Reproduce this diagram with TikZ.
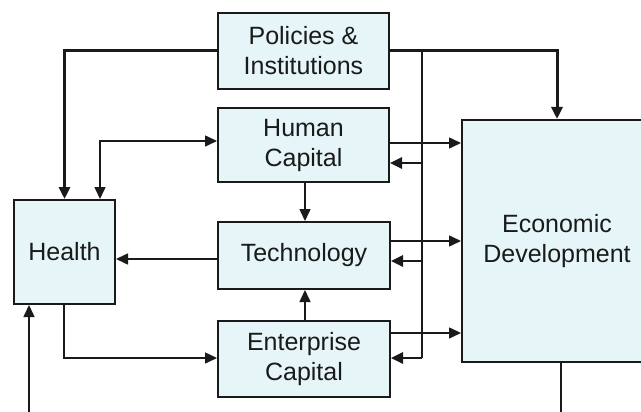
\documentclass[tikz,border=0pt]{standalone}
\usepackage{fontspec}
\setmainfont{Liberation Sans}
\usetikzlibrary{arrows.meta}
\definecolor{boxfill}{HTML}{E6F6F8}
\definecolor{ink}{HTML}{1A1A1A}
\begin{document}
\begin{tikzpicture}[x=1pt,y=-1pt,
  box/.style={draw=ink,line width=2pt,fill=boxfill,inner sep=0pt,align=center,
    font=\fontsize{25}{30}\selectfont,text=ink},
  conn/.style={draw=ink,line width=1.5pt,-{Triangle[length=12pt,width=11pt]}},
  thick conn/.style={conn,line width=3pt},
  plain/.style={draw=ink,line width=1.5pt}]
\useasboundingbox (0,0) rectangle (641,412);
\node[box,minimum width=190pt,minimum height=242pt] (eco) at (557,241) {Economic\\Development};
\node[box,minimum width=171pt,minimum height=76pt] (pol) at (303.5,51) {Policies \&\\Institutions};
\node[box,minimum width=171pt,minimum height=74pt] (hum) at (303.5,145) {Human\\Capital};
\node[box,minimum width=172pt,minimum height=67pt] (tec) at (304,255.5) {Technology};
\node[box,minimum width=172pt,minimum height=76pt] (ent) at (304,359) {Enterprise\\Capital};
\node[box,minimum width=101pt,minimum height=104pt] (hea) at (64.5,252) {Health};
% policies
\draw[thick conn] (pol.west) -| (hea.north);
\draw[thick conn] (pol.east) -| (eco.north);
\coordinate (bt) at (422,51);
\coordinate (bb) at (422,358);
\draw[plain] (bt) -- (bb);
% back arrows from bus
\draw[conn,line width=2.5pt] (422,163) -- (hum.east |- 0,163);
\draw[conn,line width=2.5pt] (422,261) -- (tec.east |- 0,261);
\draw[conn,line width=2.5pt] (bb) -- (ent.east |- bb);
% forward arrows to economic development
\draw[conn] (hum.east |- 0,143) -- (eco.west |- 0,143);
\draw[conn] (tec.east |- 0,241) -- (eco.west |- 0,241);
\draw[conn] (ent.east |- 0,333) -- (eco.west |- 0,333);
% health <-> human capital
\coordinate (hh) at (100,141);
\draw[conn,{Triangle[length=12pt,width=11pt]}-{Triangle[length=12pt,width=11pt]}] (hea.north -| hh) -- (hh) -- (hum.west |- hh);
% technology -> health
\draw[conn] (tec.west |- 0,259) -- (hea.east |- 0,259);
% human -> technology, enterprise -> technology
\draw[conn] (hum.south -| 305,0) -- (tec.north -| 305,0);
\draw[conn] (ent.north -| 305,0) -- (tec.south -| 305,0);
% health -> enterprise
\coordinate (he) at (64,358);
\draw[conn] (hea.south -| he) -- (he) -- (ent.west |- he);
% incoming to health
\coordinate (in) at (29,412);
\draw[conn] (in) -- (hea.south -| in);
% outgoing from economic development
\coordinate (out) at (561,412);
\draw[plain] (eco.south -| out) -- (out);
\end{tikzpicture}
\end{document}
